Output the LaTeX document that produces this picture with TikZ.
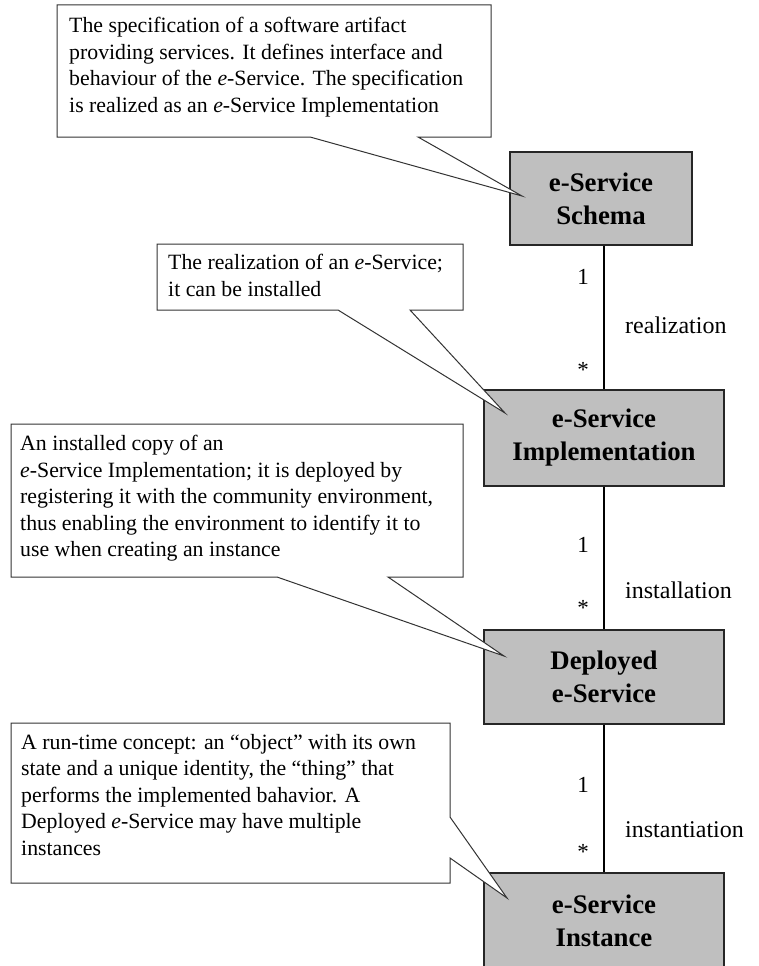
\documentclass[tikz,border=0pt]{standalone}
\usepackage{fontspec}
\setmainfont{Liberation Serif}
\begin{document}
\begin{tikzpicture}[x=1pt,y=-1pt,
  entity/.style={draw=black!85,line width=1.3pt,fill=black!25,minimum width=240pt,minimum height=96pt,
    align=center,font=\fontsize{26.8}{33}\selectfont\bfseries,inner sep=0pt},
  calloutshape/.style={draw=black!80,line width=1pt,fill=white,line join=miter},
  callouttext/.style={anchor=north west,align=left,inner sep=0pt,font=\fontsize{21.8}{26.5}\selectfont},
  mult/.style={font=\fontsize{23}{26}\selectfont,inner sep=0pt},
  rolelabel/.style={font=\fontsize{24}{28}\selectfont,inner sep=0pt,anchor=west}]
\useasboundingbox (0,0) rectangle (758,966);

% entity boxes
\node[entity,minimum width=182pt,minimum height=93pt] (schema) at (601,198.5) {e-Service\\Schema};
\node[entity] (impl) at (604,438) {e-Service\\Implementation};
\node[entity,minimum height=94pt] (depl) at (604,677) {Deployed\\e-Service};
\node[entity,minimum height=96pt] (inst) at (604,921) {e-Service\\Instance};

% connectors
\draw[line width=1.2pt] (schema.south -| impl.north) -- (impl.north);
\draw[line width=1.2pt] (impl.south) -- (depl.north);
\draw[line width=1.2pt] (depl.south) -- (inst.north);

% multiplicities and role labels
\node[mult] (m1a) at (583,277) {1};
\node[mult] (m1b) at (583,370) {*};
\node[rolelabel] (r1) at (625,325) {realization};
\node[mult] (m2a) at (583,545) {1};
\node[mult] (m2b) at (583,608) {*};
\node[rolelabel] (r2) at (625,590) {installation};
\node[mult] (m3a) at (583,785) {1};
\node[mult] (m3b) at (583,852) {*};
\node[rolelabel] (r3) at (625,830) {instantiation};

% callout tips
\coordinate (t1) at (522,196);
\coordinate (t2) at (505,413);
\coordinate (t3) at (504,656);
\coordinate (t4) at (507,898);

% callouts
\draw[calloutshape] (57,5) -- (491,5) -- (491,137) -- (418,137) -- (t1) -- (310,137) -- (57,137) -- cycle;
\draw[calloutshape] (157,244) -- (463,244) -- (463,310) -- (410,310) -- (t2) -- (338,310) -- (157,310) -- cycle;
\draw[calloutshape] (11,424) -- (463,424) -- (463,577) -- (388,577) -- (t3) -- (277,577) -- (11,577) -- cycle;
\draw[calloutshape] (11,723) -- (450,723) -- (450,817) -- (t4) -- (450,858) -- (450,883) -- (11,883) -- cycle;

\node[callouttext] (c1) at (69,17) {The specification of a software artifact\\providing services. It defines interface and\\behaviour of the \textit{e}-Service. The specification\\is realized as an \textit{e}-Service Implementation};
\node[callouttext] (c2) at (168,254) {The realization of an \textit{e}-Service;\\it can be installed};
\node[callouttext] (c3) at (20,435) {An installed copy of an\\\textit{e}-Service Implementation; it is deployed by\\registering it with the community environment,\\thus enabling the environment to identify it to\\use when creating an instance};
\node[callouttext] (c4) at (21,734) {A run-time concept: an ``object'' with its own\\state and a unique identity, the ``thing'' that\\performs the implemented bahavior. A\\Deployed \textit{e}-Service may have multiple\\instances};
\end{tikzpicture}
\end{document}
